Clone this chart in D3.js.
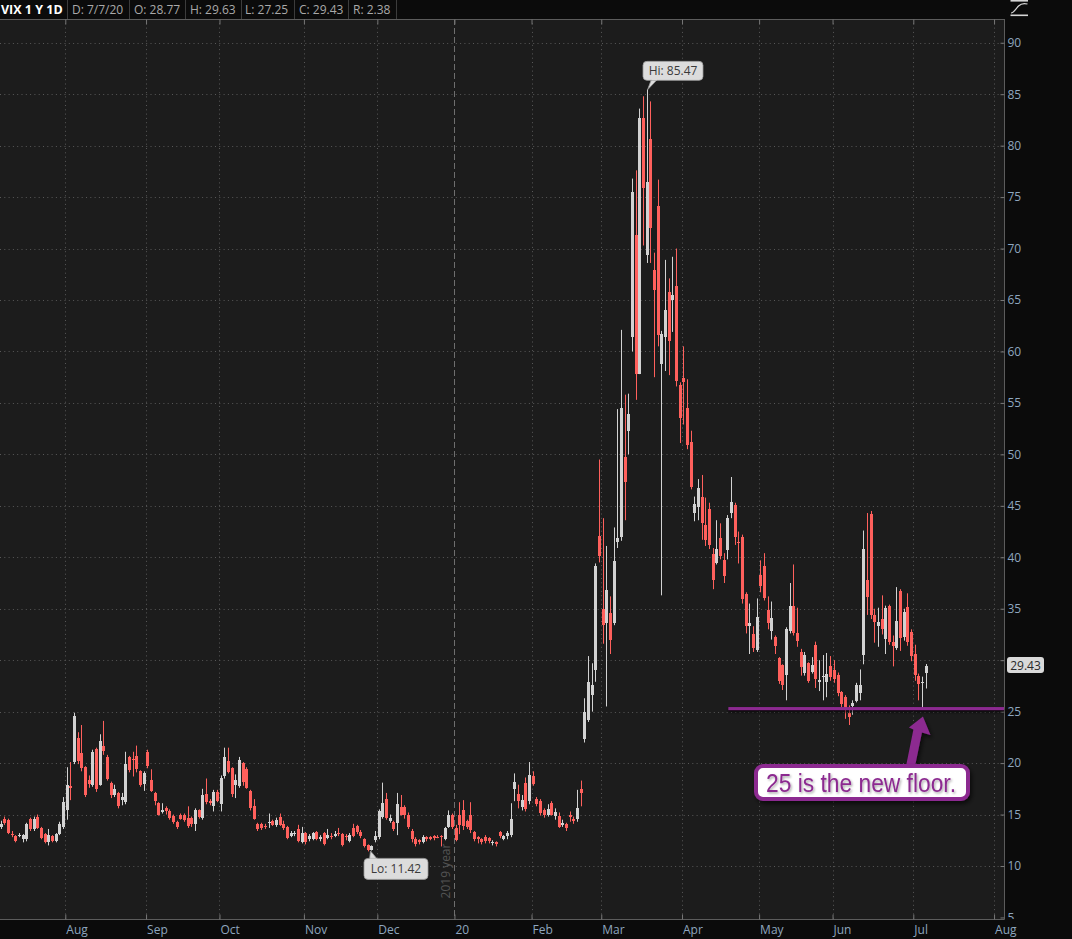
<!DOCTYPE html>
<html><head><meta charset="utf-8">
<script src="https://cdn.jsdelivr.net/npm/d3@7"></script>
<style>
html,body{margin:0;padding:0;background:#0b0b0b;}
svg{display:block;font-family:"Open Sans",sans-serif;}
</style></head><body>
<svg id="chart" width="1072" height="939"></svg>
<script>
// ---- categories: trading sessions (month/year + day numbers) ----
const sessionMonths = ["7/19","8/19","9/19","10/19","11/19","12/19","1/20","2/20","3/20","4/20","5/20","6/20","7/20"];
const sessionDays = [
  [8,9,10,11,12,15,16,17,18,19,22,23,24,25,26,29,30,31],
  [1,2,5,6,7,8,9,12,13,14,15,16,19,20,21,22,23,26,27,28,29,30],
  [3,4,5,6,9,10,11,12,13,16,17,18,19,20,23,24,25,26,27,30],
  [1,2,3,4,7,8,9,10,11,14,15,16,17,18,21,22,23,24,25,28,29,30,31],
  [1,4,5,6,7,8,11,12,13,14,15,18,19,20,21,22,25,26,27,29],
  [2,3,4,5,6,9,10,11,12,13,16,17,18,19,20,23,24,26,27,30,31],
  [2,3,6,7,8,9,10,13,14,15,16,17,21,22,23,24,27,28,29,30,31],
  [3,4,5,6,7,10,11,12,13,14,18,19,20,21,24,25,26,27,28],
  [2,3,4,5,6,9,10,11,12,13,16,17,18,19,20,23,24,25,26,27,30,31],
  [1,2,3,6,7,8,9,13,14,15,16,17,20,21,22,23,24,27,28,29,30],
  [1,4,5,6,7,8,11,12,13,14,15,18,19,20,21,22,26,27,28,29],
  [1,2,3,4,5,8,9,10,11,12,15,16,17,18,19,22,23,24,25,26,29,30],
  [1,2,6,7]
];

// ---- series values (VIX daily OHLC) ----
const open = [
13.8,14.6,14.5,13.1,12.9,12.9,12.6,12.6,14.6,13.6,
14.8,13.7,13.1,12.3,12.9,12.4,13.1,13.8,15.4,17.8,
20.1,22.4,21.0,19.6,18.4,17.9,21.4,17.9,21.7,20.6,
18.1,16.9,17.1,16.4,16.2,20.6,20.4,20.7,19.2,18.0,
21.1,18.4,17.1,16.1,15.2,15.6,15.3,14.9,14.3,15.0,
15.0,14.7,14.7,14.1,15.4,14.7,17.0,16.3,15.8,17.2,
16.0,18.7,20.2,19.5,17.9,17.8,20.0,19.4,17.3,15.8,
14.1,14.1,13.85,14.15,14.4,14.0,14.8,14.1,13.8,12.95,
13.15,13.6,12.3,13.2,12.6,12.6,13.3,12.6,13.2,12.7,
12.95,12.9,13.2,13.1,12.9,12.4,13.7,13.9,13.3,12.6,
12.0,11.55,12.5,12.8,14.8,16.5,14.4,14.3,14.2,15.7,
15.7,15.0,13.4,12.6,12.5,12.3,12.8,12.8,12.9,12.85,
12.9,12.6,13.8,15.0,13.7,15.0,15.4,14.4,15.0,13.3,
12.8,12.6,12.8,12.7,12.2,12.3,13.3,12.6,12.9,13.0,
17.5,17.0,15.7,18.1,16.3,18.7,16.5,16.3,15.4,15.0,
16.1,14.9,14.9,14.0,14.1,15.0,14.6,14.6,17.5,22.3,
24.2,26.6,29.0,42.1,35.0,33.6,34.6,33.6,41.5,42.0,
49.7,52.3,61.4,71.3,57.8,82.7,69.4,80.6,67.9,74.1,
58.8,61.4,65.8,65.0,66.4,56.7,57.4,54.5,51.2,44.3,
44.9,45.9,43.1,44.7,40.3,39.4,41.9,39.7,40.7,44.3,
45.1,41.5,42.0,36.4,33.3,32.5,31.0,38.3,39.2,34.9,
32.8,32.3,30.2,29.5,28.6,32.8,35.3,32.6,30.8,28.8,
29.7,28.9,31.5,27.9,28.4,27.9,29.4,29.0,28.6,26.9,
26.4,24.9,25.5,26.0,26.8,30.5,37.8,44.2,34.4,33.3,
34.0,32.1,35.3,31.8,31.2,36.7,32.3,35.2,32.7,30.6,
28.5,27.8,28.77];
const high = [
14.4,14.8,14.6,13.4,13.0,13.2,13.1,14.2,14.7,14.8,
15.0,13.8,13.2,13.6,13.0,13.2,14.3,16.7,19.6,20.1,
24.9,23.0,23.7,19.7,18.8,21.3,21.5,22.8,24.1,20.8,
18.2,17.9,17.2,17.1,21.1,20.7,21.1,21.7,19.3,19.2,
21.3,19.4,17.2,16.2,16.1,15.8,15.5,15.0,14.4,15.1,
15.1,15.8,14.8,15.6,15.5,17.5,18.5,16.5,17.4,17.4,
18.8,21.5,21.5,19.6,18.9,20.6,20.1,19.6,17.4,16.5,
14.2,14.2,14.1,15.1,14.5,14.7,15.1,14.4,13.9,13.4,
13.4,14.0,13.8,13.3,13.1,13.3,13.4,13.0,13.3,13.6,
13.2,13.4,13.7,13.2,13.1,13.2,14.1,14.0,13.5,12.7,
12.1,12.0,13.4,15.5,18.1,17.1,15.0,14.4,17.1,16.9,
15.9,15.2,13.6,12.8,12.6,13.0,12.9,12.9,13.0,13.0,
13.0,13.8,15.4,15.1,14.0,16.2,16.4,14.5,16.2,13.4,
12.9,12.7,13.0,12.8,12.5,12.4,13.4,13.0,13.4,16.1,
19.0,17.9,16.9,18.6,20.1,19.2,16.7,16.5,15.6,16.0,
16.3,15.6,15.2,14.5,14.2,15.3,14.8,17.4,18.3,26.3,
30.4,29.7,39.4,49.5,43.8,41.1,36.2,42.9,54.4,62.1,
55.8,55.9,76.8,77.6,83.6,84.8,85.47,84.3,69.6,76.7,
62.0,68.9,67.1,69.2,70.0,57.0,60.5,57.3,52.3,45.9,
47.6,48.0,45.8,45.3,40.9,43.6,43.3,40.4,44.1,47.8,
45.3,42.5,42.2,36.6,35.5,33.3,36.0,39.7,40.4,36.2,
35.7,32.4,30.3,29.6,33.2,37.5,39.3,35.1,31.1,30.8,
29.8,30.3,31.8,30.0,30.5,30.7,30.4,30.0,28.8,27.0,
26.6,25.6,26.1,27.8,29.1,42.6,44.3,44.5,35.0,35.1,
36.3,35.3,35.4,32.4,37.1,36.9,35.0,36.5,33.0,31.5,
28.7,28.4,29.63];
const low = [
13.6,14.0,13.1,12.8,12.3,12.8,12.3,12.4,13.4,13.4,
13.6,12.6,12.2,12.0,12.3,12.3,13.0,13.6,14.5,16.4,
19.9,19.9,19.2,16.7,17.6,17.7,17.2,17.8,20.8,18.3,
16.6,16.7,15.6,15.9,16.0,19.1,18.7,19.1,17.7,17.3,
19.5,17.2,15.9,14.9,15.1,15.0,14.5,14.1,13.6,14.5,
14.3,13.7,13.8,13.4,14.6,14.5,16.0,15.9,15.3,16.2,
15.3,18.5,19.0,16.7,16.6,17.6,17.8,17.5,15.4,14.5,
13.4,13.5,13.6,13.7,13.9,13.8,13.9,13.5,12.6,12.8,
12.9,12.3,12.2,12.1,12.4,12.5,12.5,12.4,12.0,12.6,
12.6,12.8,12.9,11.9,12.5,12.3,12.8,13.1,12.7,11.8,
11.42,11.5,12.3,12.6,14.6,14.5,14.2,13.4,13.0,14.9,
14.6,13.6,12.3,11.9,12.1,12.2,12.4,12.5,12.5,12.7,
11.9,12.5,13.7,13.6,12.4,13.1,13.5,13.6,13.2,12.4,
12.2,12.1,12.2,12.2,12.0,11.9,12.7,12.5,12.6,12.8,
16.3,15.6,15.4,15.3,16.0,17.8,15.8,14.9,14.7,14.8,
14.9,14.5,13.7,13.8,13.4,14.3,14.1,14.3,15.8,22.0,
24.0,25.0,27.9,39.5,31.6,25.5,30.6,33.4,40.9,41.6,
43.6,50.0,60.0,55.3,57.8,70.3,68.6,68.6,57.5,60.5,
36.3,58.1,57.7,61.9,56.6,51.1,52.9,50.5,46.6,43.5,
43.6,41.7,41.1,40.8,36.9,39.3,39.8,37.5,39.8,43.8,
41.2,39.4,35.5,32.6,30.6,30.8,30.8,36.6,35.8,33.0,
32.0,30.6,27.7,27.1,26.1,32.6,32.4,31.3,28.5,28.5,
27.8,28.7,27.3,27.0,26.1,26.4,28.0,27.8,26.5,25.4,
24.3,23.7,24.7,25.9,26.1,29.6,34.4,34.0,31.7,31.3,
32.5,30.6,31.5,29.4,31.0,30.9,31.9,31.4,29.9,28.0,
26.1,25.3,27.25];
const close = [
14.1,14.2,13.2,13.0,12.4,13.0,13.0,14.1,13.6,14.6,
13.7,12.7,12.3,13.0,12.4,13.1,14.1,16.2,17.9,17.6,
24.6,20.2,19.5,16.9,18.0,21.1,17.5,22.1,21.2,18.5,
16.9,17.5,15.8,16.7,19.9,19.3,20.3,19.4,17.9,19.0,
19.7,17.3,16.3,15.0,15.4,15.3,14.7,14.3,13.8,14.6,
14.5,13.9,14.1,15.4,14.8,16.9,16.2,16.1,17.2,16.3,
18.6,20.6,19.1,17.0,18.4,20.3,18.2,17.6,15.6,14.6,
13.6,13.7,13.8,14.25,14.0,14.5,14.0,13.7,12.7,13.2,
13.2,12.4,13.2,12.3,12.9,13.2,12.6,12.8,12.1,13.0,
12.9,13.1,13.1,12.0,12.8,13.0,12.95,13.3,12.95,11.9,
11.55,11.9,12.9,15.3,16.1,14.7,14.7,13.6,16.0,15.0,
15.0,13.8,12.6,12.1,12.3,12.8,12.6,12.6,12.7,12.8,
12.85,13.7,15.0,13.8,12.5,14.0,13.85,13.8,13.45,12.6,
12.6,12.3,12.4,12.4,12.35,12.1,12.9,12.9,13.2,14.6,
18.2,16.3,16.4,15.5,18.8,18.0,16.05,15.15,14.96,15.5,
15.0,15.2,13.8,14.2,13.7,14.8,14.4,15.6,17.1,25.0,
27.85,27.6,39.2,40.1,33.4,36.8,32.0,39.6,41.9,54.5,
47.3,53.9,75.5,57.8,82.7,75.9,76.45,72.0,66.0,61.6,
61.7,64.0,61.0,65.5,57.1,53.5,57.06,50.9,46.8,45.2,
46.7,43.35,41.7,41.2,37.8,40.8,40.1,38.15,43.8,45.4,
42.0,41.4,35.9,33.3,33.6,31.2,34.15,37.2,36.0,33.6,
34.1,31.4,28.0,27.6,33.0,35.3,32.6,31.9,29.3,30.5,
28.0,29.5,28.2,28.1,28.5,28.7,28.4,28.2,26.8,25.7,
25.4,24.5,25.8,27.6,27.6,40.8,36.1,34.4,33.7,33.7,
33.0,35.1,31.8,31.4,33.8,32.2,34.7,31.8,30.4,28.6,
27.7,27.9,29.43];

// ---- tick labels ----
const tickSessions = [18,40,60,83,103,124,145,164,186,207,227,249,271];
const tickLabels = ["Aug","Sep","Oct","Nov","Dec","20","Feb","Mar","Apr","May","Jun","Jul","Aug"];
const yearBreakTick = "20";
const yearBreakLabel = "2019 year";
const yTicks = [5,10,15,20,25,30,35,40,45,50,55,60,65,70,75,80,85,90];
const symbolTitle = "VIX 1 Y 1D";
const rangeValue = 2.38;
const floorLevel = 25.3;
const floorStartSession = 198;
const calloutText = "25 is the new floor.";

// ---- build ----
const dates = sessionMonths.flatMap((m, k) => {
  const [mo, yr] = m.split("/");
  return sessionDays[k].map(d => `${mo}/${d}/${yr}`);
});
const data = dates.map((d, i) => ({i, date: d, o: open[i], h: high[i], l: low[i], c: close[i]}));
const last = data[data.length - 1];

const svg = d3.select("#chart");
const W = 1072, H = 939;
const P = {left: 0, right: 1004, top: 19, bottom: 919};

const x = d3.scaleLinear().domain([18, 249]).range([66.6, 914.6]);
const xg = d3.scaleLinear().domain([18, 249]).range([65.3, 913.3]);
const y = d3.scaleLinear().domain([10, 85]).range([866, 94.2]);

const UP = "#d2d2d2", DOWN = "#ff605c";
const AXIS_TXT = "#8ea6bf";
const PURPLE = "#8c2a90";

const defs = svg.append("defs");
defs.append("clipPath").attr("id", "plotClip").append("rect")
  .attr("x", P.left).attr("y", P.top).attr("width", P.right - P.left).attr("height", P.bottom - P.top);
defs.append("clipPath").attr("id", "yAxisClip").append("rect")
  .attr("x", -6).attr("y", P.top).attr("width", 80).attr("height", P.bottom - P.top);
const sh1 = defs.append("filter").attr("id", "lineShadow").attr("filterUnits", "userSpaceOnUse")
  .attr("x", 0).attr("y", 690).attr("width", 1010).attr("height", 40);
sh1.append("feDropShadow").attr("dx", 0).attr("dy", 2).attr("stdDeviation", 1.5).attr("flood-color", "#000").attr("flood-opacity", 0.8);
const sh2 = defs.append("filter").attr("id", "boxShadow").attr("x", "-10%").attr("y", "-30%").attr("width", "125%").attr("height", "170%");
sh2.append("feDropShadow").attr("dx", 2).attr("dy", 3).attr("stdDeviation", 2).attr("flood-color", "#000").attr("flood-opacity", 0.6);
const sh3 = defs.append("filter").attr("id", "textShadow").attr("x", "-5%").attr("y", "-30%").attr("width", "115%").attr("height", "170%");
sh3.append("feDropShadow").attr("dx", 1.2).attr("dy", 1.5).attr("stdDeviation", 1).attr("flood-color", "#000").attr("flood-opacity", 0.35);

// backgrounds
svg.append("rect").attr("width", W).attr("height", H).attr("fill", "#0b0b0b");
svg.append("rect").attr("x", P.left).attr("y", P.top).attr("width", P.right - P.left)
  .attr("height", P.bottom - P.top).attr("fill", "#1c1c1c");

// horizontal dotted gridlines
svg.append("g").selectAll("line").data(yTicks.filter(v => v > 5)).join("line")
  .attr("x1", P.left).attr("x2", P.right)
  .attr("y1", d => Math.round(y(d)) + 0.5).attr("y2", d => Math.round(y(d)) + 0.5)
  .attr("stroke", "#585858").attr("stroke-width", 1).attr("stroke-dasharray", "1,3.3");

// vertical gridlines
const yearIdx = tickLabels.indexOf(yearBreakTick);
svg.append("g").selectAll("line").data(tickSessions).join("line")
  .attr("x1", d => Math.round(xg(d)) + 0.5).attr("x2", d => Math.round(xg(d)) + 0.5)
  .attr("y1", P.top).attr("y2", P.bottom)
  .attr("stroke", (d, k) => k === yearIdx ? "#6e6e6e" : "#585858")
  .attr("stroke-dasharray", (d, k) => k === yearIdx ? "6,3" : "1,3.3");

// year break label
svg.append("text")
  .attr("transform", `translate(${xg(tickSessions[yearIdx]) - 4.5},871) rotate(-90)`)
  .attr("text-anchor", "middle").attr("font-size", 12).attr("fill", "#545454")
  .text(yearBreakLabel);

// candles
const cg = svg.append("g").attr("clip-path", "url(#plotClip)");
const col = d => d.c >= d.o ? UP : DOWN;
cg.selectAll("line.wick").data(data).join("line").attr("class", "wick")
  .attr("x1", d => Math.round(x(d.i)) + 0.5).attr("x2", d => Math.round(x(d.i)) + 0.5)
  .attr("y1", d => y(d.h)).attr("y2", d => y(d.l))
  .attr("stroke", col).attr("stroke-width", 1);
cg.selectAll("rect.body").data(data).join("rect").attr("class", "body")
  .attr("x", d => Math.round(x(d.i)) - 1).attr("width", 3)
  .attr("y", d => y(Math.max(d.o, d.c)))
  .attr("height", d => Math.max(1, Math.abs(y(d.o) - y(d.c))))
  .attr("fill", col).attr("shape-rendering", "crispEdges");

// plot borders
const bord = svg.append("g").attr("stroke", "#5c5c5c").attr("stroke-width", 1);
bord.append("line").attr("x1", 0).attr("x2", P.right + 0.5).attr("y1", P.top + 0.5).attr("y2", P.top + 0.5);
bord.append("line").attr("x1", 0).attr("x2", P.right + 0.5).attr("y1", P.bottom + 0.5).attr("y2", P.bottom + 0.5);
bord.append("line").attr("x1", P.right + 0.5).attr("x2", P.right + 0.5).attr("y1", P.top).attr("y2", P.bottom + 0.5);

// right y axis (label hidden behind the last-price tag is dropped, as in the original)
const lastLabelY = y(last.c);
const yAxis = svg.append("g").attr("transform", `translate(${P.right + 0.5},0)`)
  .attr("clip-path", "url(#yAxisClip)")
  .call(d3.axisRight(y).tickValues(yTicks).tickSizeInner(-4).tickSizeOuter(0).tickPadding(3));
yAxis.select(".domain").remove();
yAxis.selectAll(".tick line").attr("stroke", "#777");
yAxis.selectAll(".tick text").attr("fill", AXIS_TXT).attr("font-size", 12)
  .attr("font-family", "Open Sans, sans-serif");
yAxis.selectAll(".tick text").filter(d => Math.abs(y(d) - lastLabelY) < 12).remove();

// bottom axis
const xAxis = svg.append("g").attr("transform", `translate(0,${P.bottom + 0.5})`)
  .call(d3.axisBottom(xg).tickValues(tickSessions).tickFormat((d, k) => tickLabels[k])
    .tickSizeInner(-5).tickSizeOuter(0).tickPadding(6));
xAxis.select(".domain").remove();
xAxis.selectAll(".tick line").attr("stroke", "#777");
xAxis.selectAll(".tick text").attr("fill", AXIS_TXT).attr("font-size", 12)
  .attr("font-family", "Open Sans, sans-serif").attr("text-anchor", "start").attr("dx", 0.5);

// top ticks
const xTop = svg.append("g").attr("transform", `translate(0,${P.top + 0.5})`)
  .call(d3.axisTop(xg).tickValues(tickSessions).tickFormat("").tickSizeInner(-5).tickSizeOuter(0));
xTop.select(".domain").remove();
xTop.selectAll(".tick line").attr("stroke", "#777");

// header
const hdr = [
  {t: symbolTitle, x: 1, bold: true},
  {t: `D: ${last.date}`, x: 72},
  {t: `O: ${last.o.toFixed(2)}`, x: 134},
  {t: `H: ${last.h.toFixed(2)}`, x: 190},
  {t: `L: ${last.l.toFixed(2)}`, x: 245},
  {t: `C: ${last.c.toFixed(2)}`, x: 299},
  {t: `R: ${rangeValue.toFixed(2)}`, x: 353}
];
const sepX = [67, 129, 185, 241, 294, 348, 396];
svg.append("g").selectAll("line").data(sepX).join("line")
  .attr("x1", d => d + 0.5).attr("x2", d => d + 0.5).attr("y1", 0).attr("y2", P.top)
  .attr("stroke", "#3c3c3c");
svg.append("g").selectAll("text").data(hdr).join("text")
  .attr("x", d => d.x).attr("y", 14)
  .attr("font-size", d => d.bold ? 12.5 : 12)
  .attr("font-weight", d => d.bold ? 700 : 400)
  .attr("fill", d => d.bold ? "#ffffff" : "#a9a9a9")
  .text(d => d.t);

// top-right icon
const ic = svg.append("g").attr("stroke", "#d6d6d6").attr("fill", "none");
ic.append("line").attr("x1", 1010.5).attr("x2", 1028).attr("y1", 0.8).attr("y2", 0.8).attr("stroke-width", 1.6);
ic.append("line").attr("x1", 1010.5).attr("x2", 1028).attr("y1", 15.3).attr("y2", 15.3).attr("stroke-width", 1.6);
ic.append("path").attr("d", "M1011,13 C1014,13 1015.5,9 1018.5,6 C1021.5,3 1024,3 1027.5,4").attr("stroke-width", 1.2);

// Hi / Lo labels
function calloutBox(cx, cy, txt, above) {
  const g = svg.append("g");
  const w = above ? 60 : 64, h = above ? 19 : 21;
  const bx = cx - 4.5, by = above ? cy - 28 : cy + 7;
  const tailBaseY = above ? by + h : by;
  g.append("path")
    .attr("d", above
      ? `M${cx + 4},${tailBaseY - 1} L${cx + 10},${tailBaseY - 1} L${cx},${cy + 0.5} Z`
      : `M${cx + 1},${tailBaseY + 1} L${cx + 9},${tailBaseY + 1} L${cx + 2},${cy - 0.5} Z`)
    .attr("fill", "#dcdcdc").attr("stroke", "#9a9a9a").attr("stroke-width", 0.8);
  g.append("rect").attr("x", bx).attr("y", by).attr("width", w).attr("height", h)
    .attr("rx", 4).attr("fill", "#dcdcdc").attr("stroke", "#9a9a9a").attr("stroke-width", 0.8);
  g.append("path")
    .attr("d", above
      ? `M${cx + 4.5},${tailBaseY - 1.2} L${cx + 9.5},${tailBaseY - 1.2}`
      : `M${cx + 1.5},${tailBaseY + 1.2} L${cx + 8.5},${tailBaseY + 1.2}`)
    .attr("stroke", "#dcdcdc").attr("stroke-width", 2);
  g.append("text").attr("x", bx + w / 2).attr("y", by + (above ? 14 : 15))
    .attr("text-anchor", "middle").attr("font-size", 12).attr("fill", "#3a3a3a").text(txt);
}
const hiD = data.reduce((a, b) => b.h > a.h ? b : a);
const loD = data.reduce((a, b) => b.l < a.l ? b : a);
calloutBox(Math.round(x(hiD.i)) + 0.5, y(hiD.h), `Hi: ${hiD.h.toFixed(2)}`, true);
calloutBox(Math.round(x(loD.i)) + 0.5, y(loD.l), `Lo: ${loD.l.toFixed(2)}`, false);

// last price label
const lp = svg.append("g");
lp.append("rect").attr("x", P.right + 3).attr("y", lastLabelY - 9).attr("width", 37).attr("height", 16)
  .attr("rx", 3).attr("fill", "#d9d9d9");
lp.append("text").attr("x", P.right + 21.5).attr("y", lastLabelY + 3.5).attr("text-anchor", "middle")
  .attr("font-size", 12).attr("fill", "#2a2a2a").text(last.c.toFixed(2));

// ---- annotation ----
const fy = y(floorLevel);
svg.append("rect").attr("x", x(floorStartSession) + 1).attr("width", P.right - x(floorStartSession) - 1)
  .attr("y", fy - 1.5).attr("height", 3).attr("fill", PURPLE)
  .attr("filter", "url(#lineShadow)");

const tipX = x(data.length - 2) + 1, tipY = fy + 8;
const arrowPts = [
  [tipX, tipY], [tipX + 7.5, tipY + 18.5], [tipX - 1, tipY + 16], [tipX - 8, tipY + 50],
  [tipX - 17, tipY + 50], [tipX - 9.5, tipY + 13], [tipX - 14, tipY + 11]
];
svg.append("path").attr("d", "M" + arrowPts.map(p => p.join(",")).join("L") + "Z")
  .attr("fill", PURPLE).attr("filter", "url(#boxShadow)");

const box = svg.append("g");
box.append("rect").attr("x", 756).attr("y", 766).attr("width", 212).attr("height", 33)
  .attr("rx", 7).attr("fill", "#ffffff").attr("stroke", PURPLE).attr("stroke-width", 4)
  .attr("filter", "url(#boxShadow)");
box.append("text").attr("x", 766).attr("y", 791.5)
  .attr("font-family", "Liberation Sans, Arial, sans-serif").attr("font-size", 25)
  .attr("textLength", 190).attr("lengthAdjust", "spacingAndGlyphs")
  .attr("fill", PURPLE).attr("filter", "url(#textShadow)").text(calloutText);
</script>
</body></html>
